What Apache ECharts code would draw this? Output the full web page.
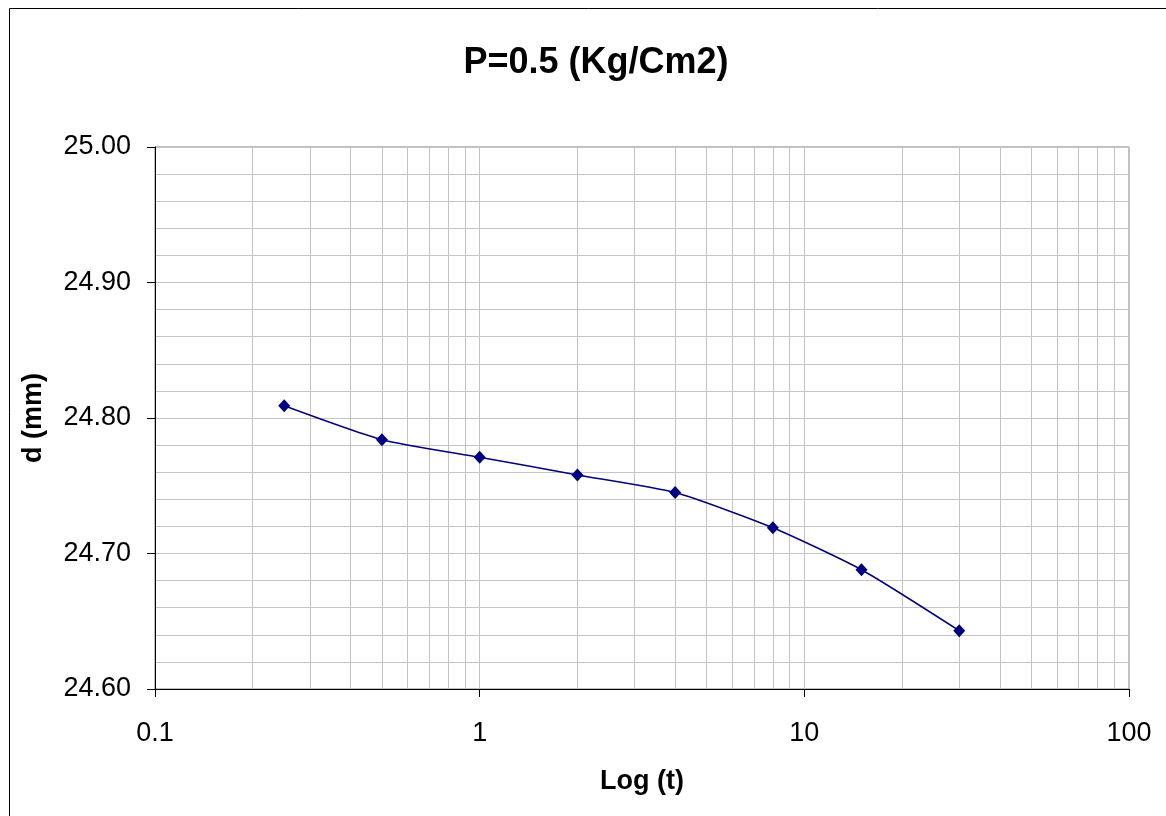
<!DOCTYPE html>
<html>
<head>
<meta charset="utf-8">
<script src="https://cdn.jsdelivr.net/npm/echarts@6/dist/echarts.min.js"></script>
<style>
  html, body { margin: 0; padding: 0; background: #fff; }
  #chart { width: 1166px; height: 816px; }
</style>
</head>
<body>
<div id="chart"></div>
<script>
// time (min) and settlement reading d (mm)
const times = [0.25, 0.5, 1, 2, 4, 8, 15, 30]
const depths = [24.809, 24.784, 24.771, 24.758, 24.745, 24.719, 24.688, 24.643]
// minor vertical grid lines on the log axis
const logMinorTicks = [0.2, 0.3, 0.4, 0.5, 0.6, 0.7, 0.8, 0.9,
  2, 3, 4, 5, 6, 7, 8, 9,
  20, 30, 40, 50, 60, 70, 80, 90]

const font = 'Liberation Sans, Arial, sans-serif'
const gridGray = '#c4c4c4'

const chart = echarts.init(document.getElementById('chart'), null, { renderer: 'canvas' })

chart.setOption({
  animation: false,
  backgroundColor: '#fff',
  title: {
    text: 'P=0.5 (Kg/Cm2)',
    left: 591,
    top: 40,
    textAlign: 'center',
    textStyle: { fontFamily: font, fontSize: 36, fontWeight: 'bold', color: '#000' }
  },
  graphic: [{
    type: 'rect',
    silent: true,
    shape: { x: 9.5, y: 8.5, width: 1300, height: 1000 },
    style: { fill: 'none', stroke: '#000', lineWidth: 1 }
  }],
  grid: {
    left: 155, right: 37, top: 147, bottom: 127,
    show: true, borderColor: '#808080', borderWidth: 1
  },
  xAxis: {
    type: 'log',
    logBase: 10,
    min: 0.1,
    max: 100,
    name: 'Log (t)',
    nameLocation: 'middle',
    nameGap: 79,
    nameTextStyle: { fontFamily: font, fontSize: 27, fontWeight: 'bold', color: '#000' },
    axisLine: { onZero: false, lineStyle: { color: '#000', width: 1 } },
    axisTick: { show: true, length: 8, lineStyle: { color: '#000' } },
    axisLabel: {
      fontFamily: font, fontSize: 27, color: '#000', margin: 31,
      formatter: v => String(+v.toPrecision(3))
    },
    splitLine: { show: true, lineStyle: { color: gridGray, width: 1 } }
  },
  yAxis: {
    type: 'value',
    min: 24.6,
    max: 25.0,
    interval: 0.1,
    name: 'd (mm)',
    nameLocation: 'middle',
    nameGap: 108,
    nameRotate: 90,
    nameTextStyle: { fontFamily: font, fontSize: 27, fontWeight: 'bold', color: '#000' },
    axisLine: { show: true, lineStyle: { color: '#000', width: 1 } },
    axisTick: { show: true, length: 8, lineStyle: { color: '#000' } },
    axisLabel: {
      fontFamily: font, fontSize: 27, color: '#000', margin: 24,
      formatter: v => v.toFixed(2)
    },
    splitLine: { show: true, lineStyle: { color: gridGray, width: 1 } },
    minorTick: { show: false, splitNumber: 5 },
    minorSplitLine: { show: true, lineStyle: { color: gridGray, width: 1 } }
  },
  series: [
    {
      // carrier for the log-axis minor grid lines
      type: 'line',
      data: [],
      z: 1,
      silent: true,
      markLine: {
        silent: true,
        symbol: 'none',
        animation: false,
        label: { show: false },
        lineStyle: { color: gridGray, width: 1, type: 'solid' },
        data: logMinorTicks.map(v => ({ xAxis: v }))
      }
    },
    {
      name: 'd',
      type: 'line',
      z: 5,
      data: times.map((t, i) => [t, depths[i]]),
      smooth: 0.2,
      symbol: 'diamond',
      symbolSize: [12, 13],
      itemStyle: { color: '#000080' },
      lineStyle: { color: '#000080', width: 1.5 }
    }
  ]
})
</script>
</body>
</html>
